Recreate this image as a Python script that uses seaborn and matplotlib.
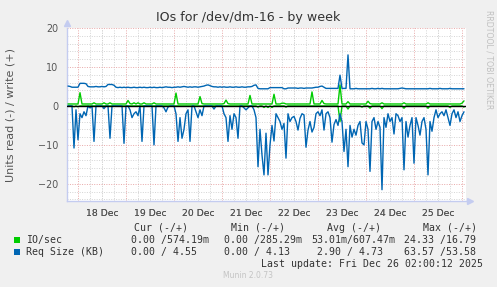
import numpy as np
import pandas as pd
import matplotlib
matplotlib.use("Agg")
import matplotlib.pyplot as plt
import seaborn as sns
from matplotlib.patches import Rectangle
from matplotlib.ticker import FixedLocator, FuncFormatter

# ---------------- data (hourly samples, hours since 18 Dec 00:00) ----------------
hours = list(range(-5, 194))

# Req Size (KB) read, magnitude (drawn as negative)
req_read = (
    [0, 0, 0, 10.8, 1.0]
    + [8.7, 2.0, 3.0, 1.5, 2.5, 0, 0.5, 0, 9.1, 0, 0, 0, 0, 0.7, 0, 0, 8.3, 0, 0, 0, 0, 0, 0, 9.6]
    + [0, 0, 1.0, 3.0, 2.0, 1.5, 2.5, 0, 9.1, 0, 0, 0, 0, 0, 10.0, 0, 0, 0, 0, 0.5, 1.5, 0.3, 0, 0]
    + [0, 2.0, 9.1, 3.0, 8.3, 6.0, 2.0, 1.0, 9.1, 0, 0, 1.5, 3.0, 1.0, 2.5, 0, 0, 0, 0, 0, 0.8, 0, 0, 0]
    + [0, 2.0, 3.0, 9.1, 2.5, 6.0, 2.0, 3.0, 8.3, 0, 0, 0.5, 1.0, 0.5, 0, 0, 1.0, 3.0, 15.6, 6.0, 12.6, 17.7, 7.0, 17.7]
    + [10.0, 5.0, 9.0, 2.0, 3.0, 4.0, 6.0, 4.5, 13.4, 2.0, 4.0, 3.0, 2.7, 4.0, 6.2, 3.2, 2.0, 2.3, 10.6, 6.2, 4.0, 6.7, 5.5, 2.0]
    + [1.5, 2.5, 1.0, 6.2, 2.0, 1.5, 3.0, 9.3, 4.8, 3.5, 5.0, 2.0, 4.0, 11.7, 6.0, 15.6, 5.0, 8.0, 6.0, 7.5, 5.0, 4.0, 9.5, 10.0]
    + [4.0, 6.0, 16.8, 4.0, 3.0, 6.0, 4.0, 5.5, 21.5, 3.0, 5.5, 2.0, 4.0, 3.0, 7.2, 2.0, 2.5, 4.0, 3.0, 16.4, 4.0, 8.0, 5.0, 3.0]
    + [14.7, 3.0, 5.0, 7.5, 4.0, 3.0, 6.0, 17.7, 4.0, 6.5, 3.0, 1.0, 3.0, 2.0, 1.5, 2.5, 1.0, 3.0, 5.0, 2.0, 1.0, 3.0, 1.5, 4.0]
    + [2.5, 1.5]
)

# Req Size (KB) write
req_write = (
    [5.1, 5.0, 4.8, 4.8, 4.8]
    + [4.8, 5.8, 5.8, 5.8, 5.7, 5.0, 4.9, 4.9, 4.9, 5.0, 4.9, 4.9, 5.0, 4.9, 5.0, 5.5, 5.5, 5.5, 5.3, 4.8, 4.7, 4.8, 4.7, 4.8]
    + [4.7, 4.8, 4.7, 4.7, 4.8, 4.7, 4.7, 4.8, 4.7, 4.8, 4.7, 4.7, 4.8, 4.7, 4.8, 4.7, 4.7, 4.8, 4.7, 4.8, 4.9, 4.8, 4.8, 4.7]
    + [4.8, 4.8, 4.9, 4.8, 4.9, 5.0, 4.9, 4.8, 4.9, 4.8, 4.9, 4.9, 4.8, 4.9, 5.0, 5.1, 5.3, 5.4, 5.2, 5.0, 4.9, 4.9, 4.8, 4.9]
    + [4.8, 4.9, 4.8, 4.8, 4.9, 4.8, 4.8, 4.9, 4.8, 4.8, 4.9, 4.8, 4.8, 4.9, 4.9, 5.0, 5.3, 5.4, 4.5, 4.4, 4.4, 4.4, 4.4, 4.4]
    + [4.7, 4.7, 4.7, 4.7, 4.7, 4.7, 4.7, 4.4, 4.4, 4.6, 4.6, 4.6, 4.6, 4.6, 4.5, 4.6, 4.6, 4.5, 4.6, 4.6, 4.6, 4.6, 4.7, 4.8]
    + [4.8, 5.0, 5.1, 4.8, 4.5, 4.5, 4.5, 4.5, 4.5, 4.5, 4.5, 7.9, 4.5, 4.5, 4.5, 13.1, 4.4, 4.4, 4.4, 4.5, 4.4, 4.4, 4.4, 4.4]
    + [4.4, 4.4, 4.4, 4.5, 4.4, 4.4, 4.5, 4.4, 4.5, 4.4, 4.4, 4.4, 4.4, 4.4, 4.4, 4.4, 4.4, 4.5, 4.6, 4.5, 4.4, 4.4, 4.4, 4.4]
    + [4.4, 4.4, 4.4, 4.4, 4.4, 4.4, 4.4, 4.4, 4.5, 4.4, 4.4, 4.4, 4.4, 4.5, 4.4, 4.4, 4.4, 4.4, 4.5, 4.4, 4.4, 4.4, 4.4, 4.4]
    + [4.4, 4.4]
)

# IO/sec write
io_write = (
    [0.5, 0.5, 0.5, 0.5, 0.5]
    + [0.5, 3.4, 0.5, 0.5, 0.5, 0.5, 0.5, 0.5, 0.8, 0.5, 0.5, 0.5, 0.5, 0.8, 0.5, 0.5, 0.8, 0.5, 0.5, 0.5, 0.5, 0.5, 0.5, 0.5]
    + [0.5, 1.4, 0.6, 0.5, 0.8, 0.5, 0.8, 0.5, 0.5, 0.8, 0.5, 0.5, 0.5, 0.5, 0.8, 0.5, 0.5, 0.5, 0.5, 0.5, 0.5, 0.5, 0.5, 0.5]
    + [0.5, 3.3, 0.5, 0.5, 0.5, 0.5, 0.5, 0.5, 0.5, 0.5, 0.5, 0.5, 0.5, 2.4, 0.6, 0.5, 0.5, 0.5, 0.5, 0.5, 0.5, 0.5, 0.5, 0.5]
    + [0.5, 0.6, 1.5, 0.6, 0.5, 0.5, 0.5, 0.5, 0.5, 0.5, 0.5, 0.5, 0.5, 0.5, 2.7, 0.5, 0.5, 0.5, 0.5, 0.5, 0.5, 0.5, 0.5, 0.5]
    + [0.5, 0.5, 3.0, 0.5, 0.5, 0.5, 0.7, 0.7, 0.5, 0.5, 0.5, 0.5, 0.5, 0.5, 0.5, 0.5, 0.5, 0.5, 0.5, 0.5, 0.5, 3.6, 0.5, 0.5]
    + [0.5, 0.5, 1.4, 0.6, 0.5, 0.5, 0.5, 0.5, 0.5, 0.5, 0.5, 5.4, 0.5, 0.5, 0.5, 1.1, 0.5, 0.5, 0.5, 0.5, 0.5, 0.5, 0.5, 0.5]
    + [0.5, 1.2, 0.6, 0.5, 0.5, 0.5, 0.5, 0.5, 0.8, 0.5, 0.5, 0.5, 0.5, 0.5, 0.5, 0.5, 0.5, 0.5, 0.5, 0.8, 0.5, 0.5, 0.5, 0.5]
    + [0.5, 0.5, 0.5, 0.5, 0.5, 0.5, 0.5, 0.8, 0.5, 0.5, 0.5, 0.5, 0.5, 0.5, 0.5, 0.5, 0.5, 0.5, 0.5, 0.5, 0.5, 0.5, 0.5, 0.5]
    + [0.7, 1.3]
)

# IO/sec read, magnitude (drawn as negative)
io_read = (
    [0, 0, 0, 0.2, 0]
    + [0.2] + [0] * 23
    + [0] * 24
    + [0] * 24
    + [0] * 18 + [0.3, 0, 0, 0.4, 0, 0.4]
    + [0, 0.4, 0, 0, 0, 0, 0, 0, 0.3, 0, 0, 0, 0, 0, 0, 0, 0, 0, 0, 0, 0, 0, 0, 0]
    + [0, 0, 0, 0, 0, 0, 0, 0, 0, 0, 0, 4.0, 0, 0, 0, 0.8, 0, 0, 0, 0, 0, 0, 0.3, 0]
    + [0, 0, 0.6, 0, 0, 0, 0, 0, 0.7, 0, 0, 0, 0, 0, 0, 0, 0, 0, 0, 0.6, 0, 0, 0, 0]
    + [0, 0, 0, 0, 0, 0, 0, 0.6, 0, 0, 0, 0, 0, 0, 0, 0, 0, 0, 0.4, 0, 0, 0, 0, 0]
    + [0, 0.3]
)

day_labels = ["18 Dec", "19 Dec", "20 Dec", "21 Dec", "22 Dec", "23 Dec", "24 Dec", "25 Dec"]
label_hours = [12, 36, 60, 84, 108, 132, 156, 180]
y_ticks = [-20, -10, 0, 10, 20]

legend_rows = [
    ("IO/sec", "#00CC00", "0.00 /574.19m", "0.00 /285.29m", "53.01m/607.47m", "24.33 /16.79"),
    ("Req Size (KB)", "#0066B3", "0.00 / 4.55", "0.00 / 4.13", " 2.90 / 4.73", "63.57 /53.58"),
]

# ---------------- figure ----------------
sns.set_style("white")
plt.rcParams["font.family"] = ["DejaVu Sans"]

W, H = 497, 287
fig = plt.figure(figsize=(W / 100, H / 100), dpi=100, facecolor="#F0F0F0")
L, R, T, B = 67, 466, 28, 201
ax = fig.add_axes([L / W, 1 - B / H, (R - L) / W, (B - T) / H])
ax.set_facecolor("white")

df = pd.DataFrame({
    "hour": hours,
    "req_read": [-v for v in req_read],
    "req_write": req_write,
    "io_read": [-v for v in io_read],
    "io_write": io_write,
})

GREEN, BLUE = "#00CC00", "#0066B3"
lw = 1.0
sns.lineplot(data=df, x="hour", y="io_read", color=GREEN, lw=lw, ax=ax, zorder=3)
sns.lineplot(data=df, x="hour", y="req_read", color=BLUE, lw=lw, ax=ax, zorder=3.5)
ax.axhline(0, color="black", lw=1.0, zorder=4)
sns.lineplot(data=df, x="hour", y="io_write", color=GREEN, lw=lw, ax=ax, zorder=5)
sns.lineplot(data=df, x="hour", y="req_write", color=BLUE, lw=lw, ax=ax, zorder=6)

ax.set_xlim(-5.5, 194)
ax.set_ylim(-24.4, 20.0)

# grid
minor_grid = "#D4D4D4"
major_grid = "#E8A8A8"
dot = (0, (1, 1.5))
ax.xaxis.set_major_locator(FixedLocator(list(range(0, 194, 24))))
ax.xaxis.set_minor_locator(FixedLocator(list(range(-0, 194, 6)) + label_hours))
ax.xaxis.set_major_formatter(FuncFormatter(lambda v, p: ""))
lab_map = dict(zip(label_hours, day_labels))
ax.xaxis.set_minor_formatter(FuncFormatter(lambda v, p: lab_map.get(int(round(v)), "")))
ax.yaxis.set_major_locator(FixedLocator(y_ticks))
ax.yaxis.set_minor_locator(FixedLocator(list(range(-24, 21, 2))))
ax.grid(which="minor", color=minor_grid, lw=0.7, ls=dot, zorder=0)
ax.grid(which="major", color=major_grid, lw=0.7, ls=dot, zorder=1)
ax.set_axisbelow(True)

ax.tick_params(axis="x", which="major", length=3, color=major_grid, width=0.8)
ax.tick_params(axis="x", which="minor", length=0, labelsize=6.7, labelcolor="#555555", pad=6)
ax.tick_params(axis="y", which="major", length=3, color=major_grid, width=0.8,
               labelsize=6.9, labelcolor="#555555", pad=3)
ax.tick_params(axis="y", which="minor", length=0)
ax.set_xlabel("")
ax.set_ylabel("")

for s in ["top", "right"]:
    ax.spines[s].set_visible(False)
axis_col = "#C4CCF0"
for s in ["left", "bottom"]:
    ax.spines[s].set_color(axis_col)
    ax.spines[s].set_linewidth(1.0)
ax.plot([0], [1.03], marker="^", ms=4, color=axis_col, transform=ax.transAxes, clip_on=False)
ax.plot([1.01], [0], marker=">", ms=4, color=axis_col, transform=ax.transAxes, clip_on=False)

# texts
def fx(x):
    return x / W

def fy(y):
    return 1 - y / H

fig.text(fx(248.5), fy(18), "IOs for /dev/dm-16 - by week", ha="center", va="center",
         fontsize=9.1, color="#333333")
fig.text(fx(11), fy(115), "Units read (-) / write (+)", rotation=90, ha="center", va="center",
         fontsize=8.0, color="#555555")
fig.text(fx(489), fy(10), "RRDTOOL / TOBI OETIKER", rotation=270, ha="center", va="top",
         fontsize=5.6, color="#C0C0C0")

mono = dict(family="DejaVu Sans Mono", fontsize=7.1, color="#333333", va="center")
fig.text(fx(134), fy(227.7), "Cur (-/+)", ha="left", **mono)
fig.text(fx(231), fy(227.7), "Min (-/+)", ha="left", **mono)
fig.text(fx(327), fy(227.7), "Avg (-/+)", ha="left", **mono)
fig.text(fx(423), fy(227.7), "Max (-/+)", ha="left", **mono)

row_y = [239.7, 251.7]
for (name, col, cur, mn, avg, mx), yy in zip(legend_rows, row_y):
    fig.patches.append(Rectangle((fx(14), fy(yy + 3)), 6 / W, 6 / H, transform=fig.transFigure,
                                 facecolor=col, edgecolor="none"))
    fig.text(fx(26), fy(yy), name, ha="left", **mono)
    fig.text(fx(131), fy(yy), cur, ha="left", **mono)
    fig.text(fx(224), fy(yy), mn, ha="left", **mono)
    fig.text(fx(311), fy(yy), avg, ha="left", **mono)
    fig.text(fx(404), fy(yy), mx, ha="left", **mono)

fig.text(fx(483), fy(263.7), "Last update: Fri Dec 26 02:00:12 2025", ha="right", **mono)
fig.text(fx(248), fy(276), "Munin 2.0.73", ha="center", va="center", fontsize=5.5, color="#C4C4C4")

fig.savefig("out.png", dpi=100, facecolor=fig.get_facecolor())
